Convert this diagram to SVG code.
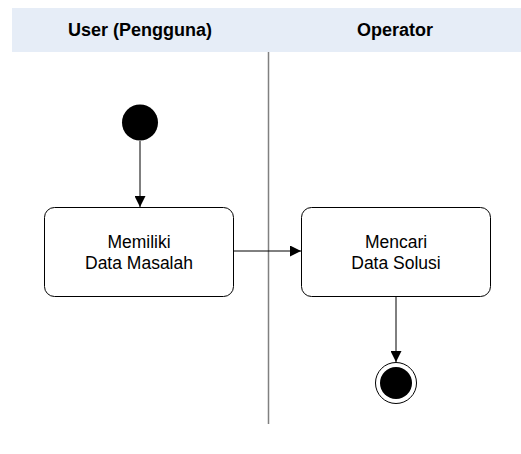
<svg xmlns="http://www.w3.org/2000/svg" width="521" height="454" viewBox="0 0 521 454">
<style>
.hdr{font-family:"Liberation Sans",Arial,sans-serif;font-size:18px;font-weight:bold;fill:#000;text-anchor:middle}
.lbl{font-family:"Liberation Sans",Arial,sans-serif;font-size:17.5px;fill:#000;text-anchor:middle}
.box{fill:#fff;stroke:#000;stroke-width:1}
.edge{stroke:#000;stroke-width:1;fill:none}
</style>
<defs>
<marker id="arr" viewBox="0 0 10 10" refX="10" refY="5" markerWidth="11" markerHeight="11" markerUnits="userSpaceOnUse" orient="auto">
<path d="M0,0 L10,5 L0,10 Z" fill="#000"/>
</marker>
</defs>
<rect width="521" height="454" fill="#fff"/>
<g id="header">
<rect x="12" y="8" width="509" height="44" fill="#e6edf7"/>
<text class="hdr" x="140" y="36">User (Pengguna)</text>
<text class="hdr" x="395" y="36">Operator</text>
</g>
<g id="lane-divider">
<line x1="268.5" y1="52" x2="268.5" y2="424" stroke="#808080" stroke-width="1.5"/>
</g>
<g id="connectors">
<line class="edge" x1="140" y1="141" x2="140" y2="207" marker-end="url(#arr)"/>
<line class="edge" x1="234" y1="251" x2="301" y2="251" marker-end="url(#arr)"/>
<line class="edge" x1="396" y1="297" x2="396" y2="362" marker-end="url(#arr)"/>
</g>
<g id="start">
<circle cx="140" cy="122.5" r="18" fill="#000"/>
</g>
<g id="memiliki">
<rect class="box" x="44.5" y="207.5" width="189" height="89" rx="10"/>
<text class="lbl" x="139" y="248">Memiliki</text>
<text class="lbl" x="139" y="269">Data Masalah</text>
</g>
<g id="mencari">
<rect class="box" x="301.5" y="207.5" width="189" height="89" rx="10"/>
<text class="lbl" x="396" y="248">Mencari</text>
<text class="lbl" x="396" y="269">Data Solusi</text>
</g>
<g id="end">
<circle cx="396" cy="383" r="20.5" fill="#fff" stroke="#000" stroke-width="1"/>
<circle cx="396" cy="383" r="16" fill="#000"/>
</g>
</svg>
